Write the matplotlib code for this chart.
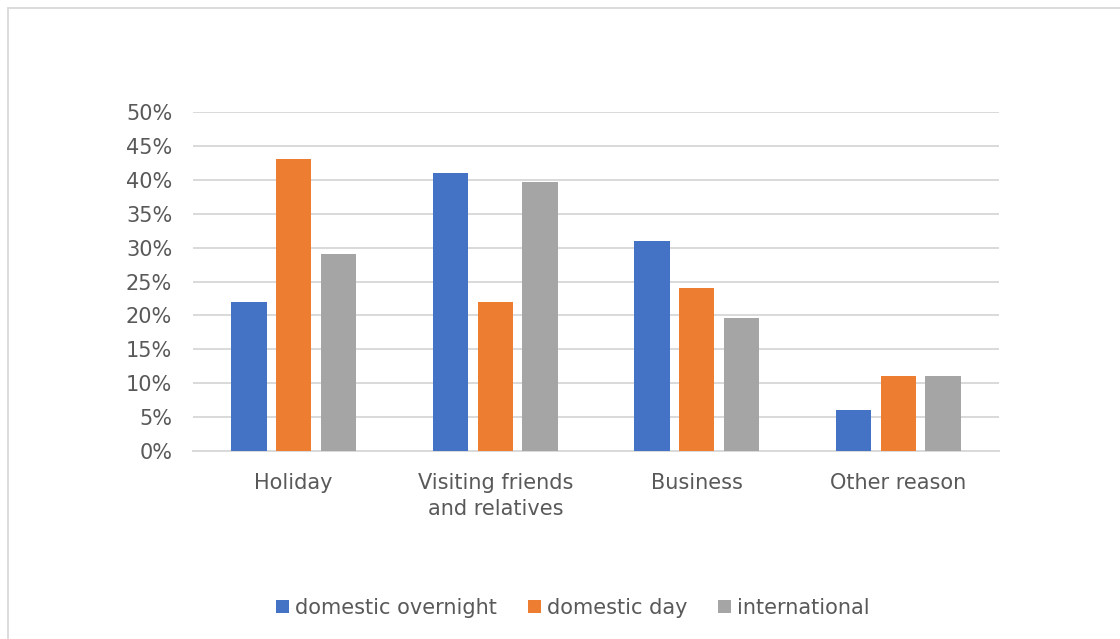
import matplotlib
matplotlib.use("Agg")
import matplotlib.pyplot as plt
import numpy as np
from matplotlib.patches import Patch, Rectangle

categories = ["Holiday", "Visiting friends\nand relatives", "Business", "Other reason"]
series_names = ["domestic overnight", "domestic day", "international"]
domestic_overnight = [22, 41, 31, 6]
domestic_day = [43, 22, 24, 11]
international = [29, 39.7, 19.6, 11]
yticks = [0, 5, 10, 15, 20, 25, 30, 35, 40, 45, 50]
colors = ["#4472C4", "#ED7D31", "#A5A5A5"]

plt.rcParams['font.family'] = ['DejaVu Sans']
text_color = "#595959"
fs = 15

fig = plt.figure(figsize=(11.2, 6.39), dpi=100)
fig.patch.set_facecolor("white")
# chart border (extends past the right/bottom of the image)
fig.add_artist(Rectangle((8/1120, -0.1), 1.2, 1 - 8/639 + 0.1, transform=fig.transFigure,
                         fill=False, edgecolor="#D9D9D9", linewidth=1.3))

ax = fig.add_axes([193/1120, 1 - 451/639, (999 - 193)/1120, (451 - 112)/639])
x = np.arange(len(categories))
bw = 0.174
step = 0.222
for i, (vals, name) in enumerate(zip([domestic_overnight, domestic_day, international], series_names)):
    ax.bar(x + (i - 1) * step, vals, width=bw, color=colors[i], label=name, zorder=3)

ax.set_xlim(-0.5, len(categories) - 0.5)
ax.set_ylim(0, 50)
ax.set_yticks(yticks)
ax.set_yticklabels([f"{t}%" for t in yticks])
ax.set_xticks(x)
ax.set_xticklabels(categories, linespacing=1.38)
ax.grid(axis="y", color="#D9D9D9", linewidth=1.4, zorder=0)
ax.set_axisbelow(True)
for s in ["top", "right", "left"]:
    ax.spines[s].set_visible(False)
ax.spines["bottom"].set_color("#D9D9D9")
ax.spines["bottom"].set_linewidth(1.4)
ax.tick_params(axis="both", length=0, labelsize=fs, labelcolor=text_color)
ax.tick_params(axis="y", pad=15)
ax.tick_params(axis="x", pad=15.5)

handles = [Patch(facecolor=c, edgecolor="none") for c in colors]
fig.legend(handles, series_names, loc="center", bbox_to_anchor=(573/1120, 1 - 608/639),
           ncol=3, frameon=False, fontsize=fs, labelcolor=text_color,
           handlelength=0.62, handleheight=0.62, handletextpad=0.3, columnspacing=1.46)

fig.savefig("out.png", dpi=100, facecolor="white")
